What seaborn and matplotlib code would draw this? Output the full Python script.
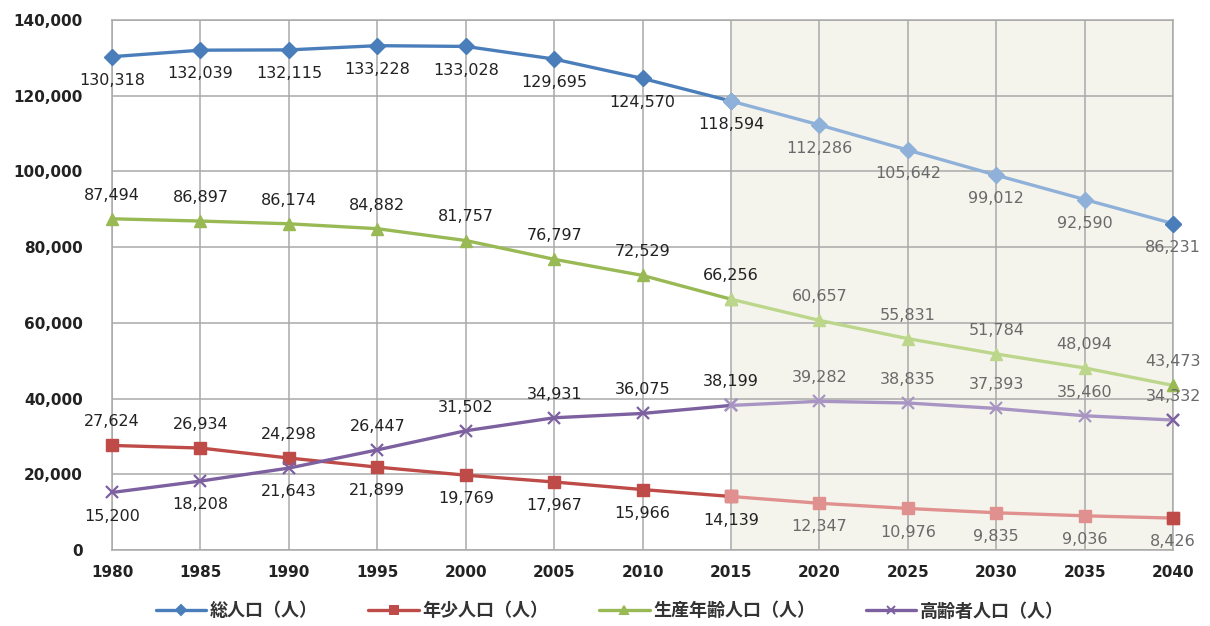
import matplotlib
matplotlib.use('Agg')
import matplotlib.pyplot as plt
import matplotlib.ticker as mticker
from matplotlib.lines import Line2D
import pandas as pd
import seaborn as sns

# Data
years = [1980, 1985, 1990, 1995, 2000, 2005, 2010, 2015, 2020, 2025, 2030, 2035, 2040]
total = [130318, 132039, 132115, 133228, 133028, 129695, 124570, 118594,
         112286, 105642, 99012, 92590, 86231]
young = [27624, 26934, 24298, 21899, 19769, 17967, 15966, 14139,
         12347, 10976, 9835, 9036, 8426]
working = [87494, 86897, 86174, 84882, 81757, 76797, 72529, 66256,
           60657, 55831, 51784, 48094, 43473]
elderly = [15200, 18208, 21643, 26447, 31502, 34931, 36075, 38199,
           39282, 38835, 37393, 35460, 34332]
series_names = ['総人口（人）', '年少人口（人）', '生産年齢人口（人）', '高齢者人口（人）']
forecast_start = 2015

sns.set_theme(style='white')
plt.rcParams['font.family'] = ['DejaVu Sans', 'Noto Sans CJK JP']

fig = plt.figure(figsize=(12.1, 6.26), dpi=100)
ax = fig.add_axes([0.0926, 0.1214, 0.8769, 0.8466])

ax.axvspan(forecast_start, years[-1], color='#f4f4ec', zorder=0)
ax.grid(True, color='#a9a9a9', linewidth=1.1, zorder=1)
ax.set_axisbelow(True)

styles = [
    (total, '#4a7ebb', '#8fb1d9', 'D', 8),
    (young, '#be4b48', '#e0918f', 's', 9),
    (working, '#98b954', '#bcd78c', '^', 9),
    (elderly, '#7d60a0', '#a995c4', 'x', 9),
]

df = pd.DataFrame({'year': years, 'total': total, 'young': young,
                   'working': working, 'elderly': elderly})
past = df[df['year'] <= forecast_start]
future = df[df['year'] >= forecast_start]

for key, (vals, dark, light, mk, ms) in zip(['total', 'young', 'working', 'elderly'], styles):
    mew = 1.6 if mk == 'x' else 1
    sns.lineplot(data=past, x='year', y=key, ax=ax, color=dark, linewidth=2.4,
                 marker=mk, markersize=ms, markeredgecolor=dark,
                 markeredgewidth=mew, zorder=4, clip_on=False)
    sns.lineplot(data=future, x='year', y=key, ax=ax, color=light, linewidth=2.4,
                 marker=mk, markersize=ms, markeredgecolor=light,
                 markeredgewidth=mew, zorder=4, clip_on=False)
    last = df.iloc[-1]
    ax.plot(last['year'], last[key], marker=mk, markersize=ms, color=dark,
            markeredgecolor=dark, markeredgewidth=mew, zorder=5, clip_on=False)

# Data labels
for i, yr in enumerate(years):
    tc = '#222222' if yr <= forecast_start else '#6a6a6a'
    kw = dict(ha='center', fontsize=11.5, color=tc, zorder=6)
    ax.annotate(f'{total[i]:,}', (yr, total[i]), xytext=(0, -17),
                textcoords='offset points', va='center', **kw)
    ax.annotate(f'{working[i]:,}', (yr, working[i]), xytext=(0, 17),
                textcoords='offset points', va='center', **kw)
    red_up = young[i] > elderly[i]
    ax.annotate(f'{young[i]:,}', (yr, young[i]), xytext=(0, 17 if red_up else -17),
                textcoords='offset points', va='center', **kw)
    ax.annotate(f'{elderly[i]:,}', (yr, elderly[i]), xytext=(0, -17 if red_up else 17),
                textcoords='offset points', va='center', **kw)

ax.set_xlim(years[0], years[-1])
ax.set_ylim(0, 140000)
ax.set_xticks(years)
ax.set_yticks(range(0, 140001, 20000))
ax.yaxis.set_major_formatter(mticker.FuncFormatter(lambda v, p: f'{int(v):,}'))
ax.set_xlabel('')
ax.set_ylabel('')
ax.tick_params(axis='both', labelsize=11, labelcolor='#222222', length=5,
               width=1, direction='out', color='#a9a9a9')
ax.tick_params(axis='y', pad=16)
ax.tick_params(axis='x', pad=6)
for lab in ax.get_xticklabels() + ax.get_yticklabels():
    lab.set_fontweight('bold')
for s in ax.spines.values():
    s.set_color('#a9a9a9')
    s.set_linewidth(1.1)

handles = [Line2D([0], [0], color=c, marker=m, markersize=ms - 3, linewidth=2.4,
                  markeredgecolor=c, markeredgewidth=1.4)
           for (_, c, _, m, ms) in styles]
fig.legend(handles, series_names, loc='center', bbox_to_anchor=(0.504, 0.024),
           ncol=4, frameon=False, handlelength=2.8,
           columnspacing=2.8, handletextpad=0.2,
           prop={'family': ['Noto Sans CJK JP', 'DejaVu Sans'], 'size': 13,
                 'weight': 'bold'})
for t in fig.legends[0].get_texts():
    t.set_color('#333333')

fig.savefig('out.png', dpi=100)
